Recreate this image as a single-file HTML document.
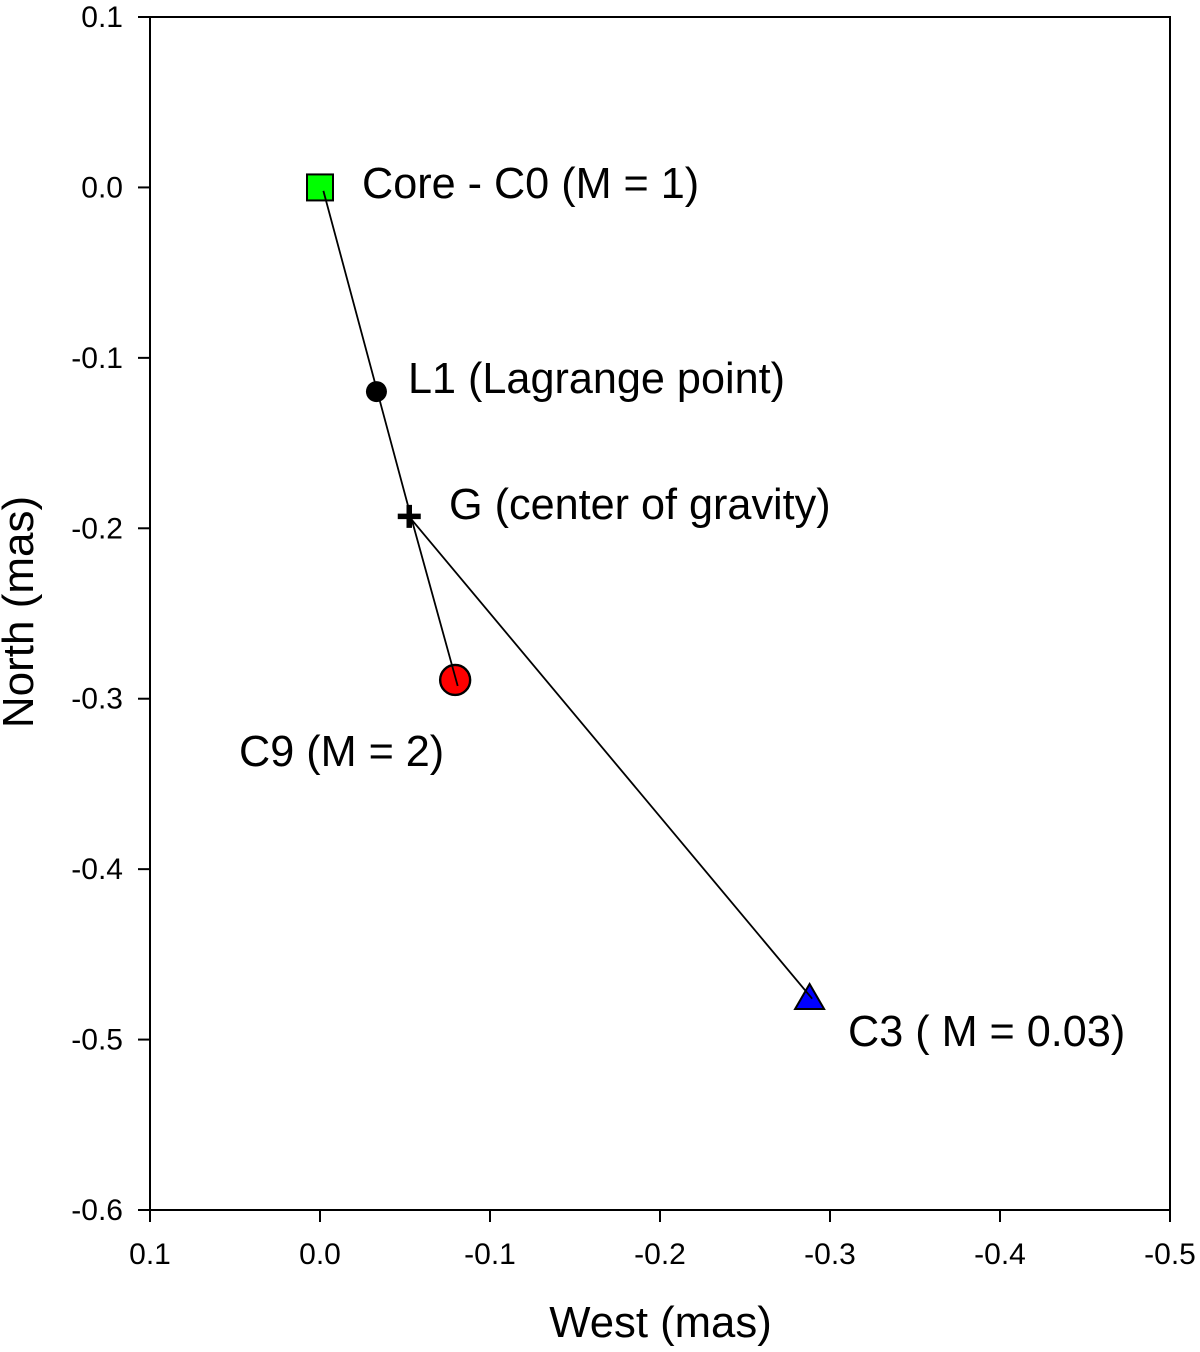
<!DOCTYPE html>
<html>
<head>
<meta charset="utf-8">
<title>Component positions</title>
<style>
html,body{margin:0;padding:0;background:#fff;}
svg{display:block;}
text{font-family:"Liberation Sans",sans-serif;fill:#000;}
.tick{font-size:30px;}
.x-title{font-size:43.7px;}
.y-title{font-size:44px;}
.note{font-size:43.2px;}
</style>
</head>
<body>
<svg id="chart" xmlns="http://www.w3.org/2000/svg" width="1200" height="1352" viewBox="0 0 1200 1352">
  <rect x="150" y="17" width="1020" height="1193" fill="none" stroke="#000" stroke-width="2"/>
  <g id="x-ticks"></g>
  <g id="y-ticks"></g>
  <g id="markers"></g>
  <g id="lines"></g>
  <text class="x-title" x="660.5" y="1337" text-anchor="middle">West (mas)</text>
  <text class="y-title" transform="translate(33,612) rotate(-90)" text-anchor="middle">North (mas)</text>
  <text class="note" x="362" y="198">Core - C0 (M = 1)</text>
  <text class="note" x="408" y="393">L1 (Lagrange point)</text>
  <text class="note" x="449" y="519">G (center of gravity)</text>
  <text class="note" x="239" y="766">C9 (M = 2)</text>
  <text class="note" x="848" y="1046">C3 ( M = 0.03)</text>
</svg>
<script>
var xTickValues = [0.1, 0.0, -0.1, -0.2, -0.3, -0.4, -0.5];
var xTickLabels = ["0.1", "0.0", "-0.1", "-0.2", "-0.3", "-0.4", "-0.5"];
var yTickValues = [0.1, 0.0, -0.1, -0.2, -0.3, -0.4, -0.5, -0.6];
var yTickLabels = ["0.1", "0.0", "-0.1", "-0.2", "-0.3", "-0.4", "-0.5", "-0.6"];

var pointNames = ["core-c0", "l1", "g", "c9", "c3"];
var pointWest = [0.0, -0.0332, -0.0525, -0.0795, -0.288];
var pointNorth = [0.0, -0.1198, -0.193, -0.289, -0.475];

var lineWest = [-0.002, -0.054, -0.081];
var lineNorth = [-0.002, -0.195, -0.2925];
var line2West = [-0.054, -0.2895];
var line2North = [-0.195, -0.476];

var NS = "http://www.w3.org/2000/svg";
function sx(v) { return 320 - v * 1700; }
function sy(v) { return 187.43 - v * 1704.29; }
function mk(tag, attrs, parent) {
  var el = document.createElementNS(NS, tag);
  for (var k in attrs) { el.setAttribute(k, attrs[k]); }
  parent.appendChild(el);
  return el;
}

var xg = document.getElementById("x-ticks");
xTickValues.forEach(function (v, i) {
  var tick = mk("line", { x1: sx(v), x2: sx(v), y1: 1210, y2: 1222, stroke: "#000", "stroke-width": 2 }, xg);
  
  
  var label = mk("text", { x: sx(v), y: 1264, "text-anchor": "middle", "class": "tick" }, xg);
  label.textContent = xTickLabels[i];
  
  
});

var yg = document.getElementById("y-ticks");
yTickValues.forEach(function (v, i) {
  var tick = mk("line", { x1: 138, x2: 150, y1: sy(v), y2: sy(v), stroke: "#000", "stroke-width": 2 }, yg);
  
  
  var label = mk("text", { x: 123, y: sy(v) + 10, "text-anchor": "end", "class": "tick" }, yg);
  label.textContent = yTickLabels[i];
  
  
});

var mg = document.getElementById("markers");
(function () {
  var x0 = sx(pointWest[0]), y0 = sy(pointNorth[0]);
  var core = mk("rect", { x: x0 - 13, y: y0 - 13, width: 26, height: 26, fill: "#00ff00", stroke: "#000", "stroke-width": 2 }, mg);
  
  

  var l1 = mk("circle", { cx: sx(pointWest[1]), cy: sy(pointNorth[1]), r: 10.5, fill: "#000" }, mg);
  
  

  var gx = sx(pointWest[2]), gy = sy(pointNorth[2]);
  var g = mk("path", { d: "M" + (gx - 11.5) + " " + gy + "H" + (gx + 11.5) + "M" + gx + " " + (gy - 11.5) + "V" + (gy + 11.5), fill: "none", stroke: "#000", "stroke-width": 5.5 }, mg);
  
  

  var c9 = mk("circle", { cx: sx(pointWest[3]), cy: sy(pointNorth[3]), r: 15, fill: "#ff0000", stroke: "#000", "stroke-width": 2.4 }, mg);
  
  

  var tx = sx(pointWest[4]), ty = sy(pointNorth[4]);
  var c3 = mk("path", { d: "M" + tx + " " + (ty - 13) + "L" + (tx + 14.5) + " " + (ty + 12) + "L" + (tx - 14.5) + " " + (ty + 12) + "Z", fill: "#0000ff", stroke: "#000", "stroke-width": 2, "stroke-linejoin": "miter" }, mg);
  
  
})();

var lg = document.getElementById("lines");
function polyPoints(xs, ys) {
  return xs.map(function (v, i) { return sx(v) + "," + sy(ys[i]); }).join(" ");
}
var line1 = mk("polyline", { points: polyPoints(lineWest, lineNorth), fill: "none", stroke: "#000", "stroke-width": 1.8 }, lg);


var line2 = mk("polyline", { points: polyPoints(line2West, line2North), fill: "none", stroke: "#000", "stroke-width": 1.8 }, lg);


</script>
</body>
</html>
